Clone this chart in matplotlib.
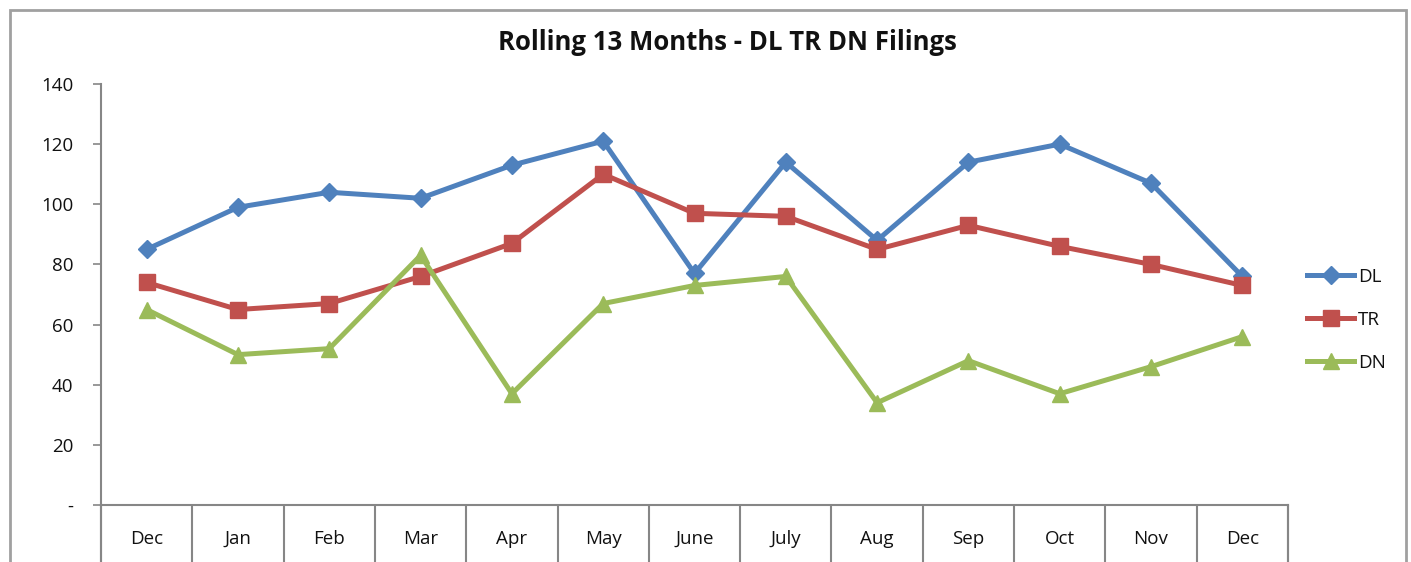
import matplotlib
matplotlib.use("Agg")
import matplotlib.pyplot as plt
from matplotlib.patches import Rectangle

months = ["Dec", "Jan", "Feb", "Mar", "Apr", "May", "June", "July", "Aug", "Sep", "Oct", "Nov", "Dec"]
dl = [85, 99, 104, 102, 113, 121, 77, 114, 88, 114, 120, 107, 76]
tr = [74, 65, 67, 76, 87, 110, 97, 96, 85, 93, 86, 80, 73]
dn = [65, 50, 52, 83, 37, 67, 73, 76, 34, 48, 37, 46, 56]
yticks = [0, 20, 40, 60, 80, 100, 120, 140]
ylabels = ["-", "20", "40", "60", "80", "100", "120", "140"]

W, H = 1411, 562
fig = plt.figure(figsize=(W / 100, H / 100), dpi=100)
plt.rcParams['font.family'] = ['Open Sans', 'DejaVu Sans']

x0, x1 = 101, 1288
ytop, ybot = 84, 505
ax = fig.add_axes([x0 / W, 1 - ybot / H, (x1 - x0) / W, (ybot - ytop) / H])

gray = "#868686"
txt = "#111111"
ax.plot(range(13), dl, color="#4F81BD", lw=3.6, marker="D", ms=9, label="DL")
ax.plot(range(13), tr, color="#C0504D", lw=3.6, marker="s", ms=11, label="TR")
ax.plot(range(13), dn, color="#9BBB59", lw=3.6, marker="^", ms=11, label="DN")

ax.set_xlim(-0.5, 12.5)
ax.set_ylim(0, 140)
ax.set_yticks(yticks)
ax.set_yticklabels(ylabels, fontsize=13.5, color=txt)
ax.set_xticks(range(13))
ax.set_xticklabels(months, fontsize=13.5, color=txt)
ax.tick_params(axis="x", which="major", length=0, pad=18)
ax.set_xticks([i - 0.5 for i in range(14)], minor=True)
ax.tick_params(axis="x", which="minor", length=48, width=1.5, color=gray, direction="out")
ax.tick_params(axis="y", which="major", length=6, width=1.2, color=gray, direction="out", pad=14)

for s in ["top", "right"]:
    ax.spines[s].set_visible(False)
for s in ["left", "bottom"]:
    ax.spines[s].set_color(gray)
    ax.spines[s].set_linewidth(1.5)

for xp in (-0.5, 12.5):
    ax.plot([xp, xp], [0, -30], color=gray, lw=1.5, clip_on=False)

fig.suptitle("Rolling 13 Months - DL TR DN Filings", x=727 / W, y=1 - 42 / H,
             va="center", fontsize=18.5, fontweight="bold", color="#111111")

leg = ax.legend(loc="center left", bbox_to_anchor=(1.010, 0.44), frameon=False,
                fontsize=13.5, handlelength=2.5, handletextpad=0.2, labelspacing=1.32,
                borderaxespad=0)
for t in leg.get_texts():
    t.set_color(txt)

fig.patches.append(Rectangle((10 / W, -0.1), (1406 - 10) / W, 1.1 - 10 / H,
                             transform=fig.transFigure, fill=False,
                             edgecolor="#A0A0A0", lw=2, clip_on=False))

fig.savefig("out.png", dpi=100)
